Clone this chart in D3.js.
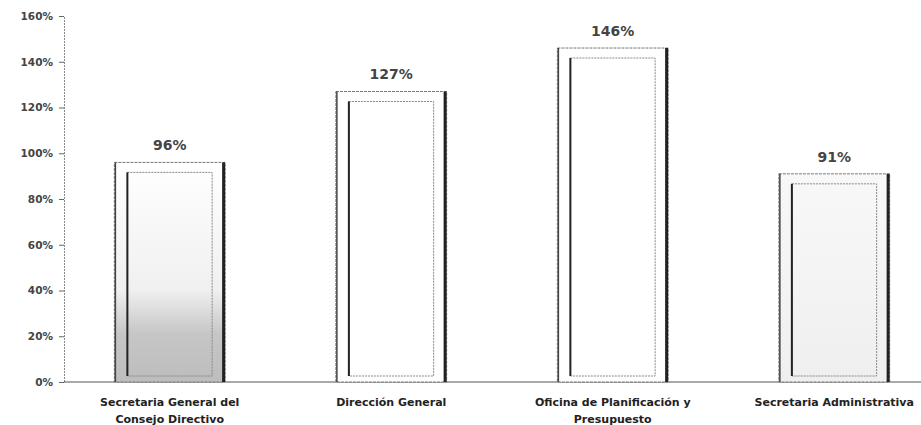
<!DOCTYPE html>
<html>
<head>
<meta charset="utf-8">
<script src="https://cdn.jsdelivr.net/npm/d3@7"></script>
<style>
  html, body { margin: 0; padding: 0; background: #fff; }
  svg { display: block; }
</style>
</head>
<body>
<svg id="chart" width="921" height="425"></svg>
<script>
const categories = [
  ["Secretaria General del", "Consejo Directivo"],
  ["Dirección General"],
  ["Oficina de Planificación y", "Presupuesto"],
  ["Secretaria Administrativa"]
];
const values = [0.96, 1.27, 1.46, 0.91];
const valueLabels = ["96%", "127%", "146%", "91%"];
const tickValues = [0, 0.2, 0.4, 0.6, 0.8, 1.0, 1.2, 1.4, 1.6];

const svg = d3.select("#chart");
const x0 = 64, baseY = 382, topY = 16;

const x = d3.scaleBand()
  .domain(d3.range(values.length))
  .range([59, 945])
  .paddingInner(0.5)
  .paddingOuter(0.25);

const y = d3.scaleLinear().domain([0, 1.6]).range([baseY, topY]);

// gradients
const defs = svg.append("defs");
const g1 = defs.append("linearGradient").attr("id", "grad1")
  .attr("x1", 0).attr("y1", 1).attr("x2", 0).attr("y2", 0);
g1.append("stop").attr("offset", "0%").attr("stop-color", "#bdbdbd");
g1.append("stop").attr("offset", "22%").attr("stop-color", "#c6c6c6");
g1.append("stop").attr("offset", "42%").attr("stop-color", "#f0f0f0");
g1.append("stop").attr("offset", "100%").attr("stop-color", "#ffffff");
const g4 = defs.append("linearGradient").attr("id", "grad4")
  .attr("x1", 0).attr("y1", 1).attr("x2", 0).attr("y2", 0);
g4.append("stop").attr("offset", "0%").attr("stop-color", "#efefef");
g4.append("stop").attr("offset", "100%").attr("stop-color", "#f8f8f8");
const fills = ["url(#grad1)", "#ffffff", "#ffffff", "url(#grad4)"];

// y axis
const yAxis = d3.axisLeft(y)
  .tickValues(tickValues)
  .tickFormat(d => Math.round(d * 100) + "%")
  .tickSize(5)
  .tickPadding(6);
const ya = svg.append("g").attr("transform", `translate(${x0},0)`).call(yAxis);
ya.select(".domain").attr("stroke", "#888").attr("stroke-dasharray", "2,1");
ya.selectAll(".tick line").attr("stroke", "#666");
ya.selectAll(".tick text")
  .attr("font-family", "DejaVu Sans, sans-serif")
  .attr("font-weight", "bold")
  .attr("font-size", 10.5)
  .attr("fill", "#444");

// baseline
svg.append("line")
  .attr("x1", x0).attr("x2", 921)
  .attr("y1", baseY).attr("y2", baseY)
  .attr("stroke", "#555").attr("stroke-width", 1.2);

// bars
const bars = svg.append("g").selectAll("g").data(values).join("g");
bars.append("rect")
  .attr("x", (d, i) => x(i))
  .attr("y", d => y(d))
  .attr("width", x.bandwidth())
  .attr("height", d => baseY - y(d))
  .attr("fill", (d, i) => fills[i])
  .attr("stroke", "#777")
  .attr("stroke-width", 1)
  .attr("stroke-dasharray", "3,1");
// left dark edge
bars.append("line")
  .attr("x1", (d, i) => x(i) + 1).attr("x2", (d, i) => x(i) + 1)
  .attr("y1", d => y(d)).attr("y2", baseY)
  .attr("stroke", "#444").attr("stroke-width", 1.5);
// right thick edge
bars.append("line")
  .attr("x1", (d, i) => x(i) + x.bandwidth() - 1.5).attr("x2", (d, i) => x(i) + x.bandwidth() - 1.5)
  .attr("y1", d => y(d)).attr("y2", baseY)
  .attr("stroke", "#222").attr("stroke-width", 3);
// inner rect
bars.append("rect")
  .attr("x", (d, i) => x(i) + 13)
  .attr("y", d => y(d) + 10)
  .attr("width", x.bandwidth() - 26)
  .attr("height", d => baseY - y(d) - 16)
  .attr("fill", "none")
  .attr("stroke", "#888")
  .attr("stroke-width", 1)
  .attr("stroke-dasharray", "2,1");
bars.append("line")
  .attr("x1", (d, i) => x(i) + 13).attr("x2", (d, i) => x(i) + 13)
  .attr("y1", d => y(d) + 10).attr("y2", baseY - 6)
  .attr("stroke", "#222").attr("stroke-width", 2);

// value labels
svg.append("g").selectAll("text").data(values).join("text")
  .attr("x", (d, i) => x(i) + x.bandwidth() / 2)
  .attr("y", d => y(d) - 12)
  .attr("text-anchor", "middle")
  .attr("font-family", "DejaVu Sans, sans-serif")
  .attr("font-weight", "bold")
  .attr("font-size", 14)
  .attr("fill", "#444")
  .text((d, i) => valueLabels[i]);

// category labels
const cl = svg.append("g").selectAll("text").data(categories).join("text")
  .attr("x", (d, i) => x(i) + x.bandwidth() / 2)
  .attr("y", 406)
  .attr("text-anchor", "middle")
  .attr("font-family", "DejaVu Sans, sans-serif")
  .attr("font-weight", "bold")
  .attr("font-size", 11)
  .attr("fill", "#222");
cl.selectAll("tspan").data(d => d).join("tspan")
  .attr("x", function () { return d3.select(this.parentNode).attr("x"); })
  .attr("dy", (d, j) => j === 0 ? 0 : 17)
  .text(d => d);
</script>
</body>
</html>
